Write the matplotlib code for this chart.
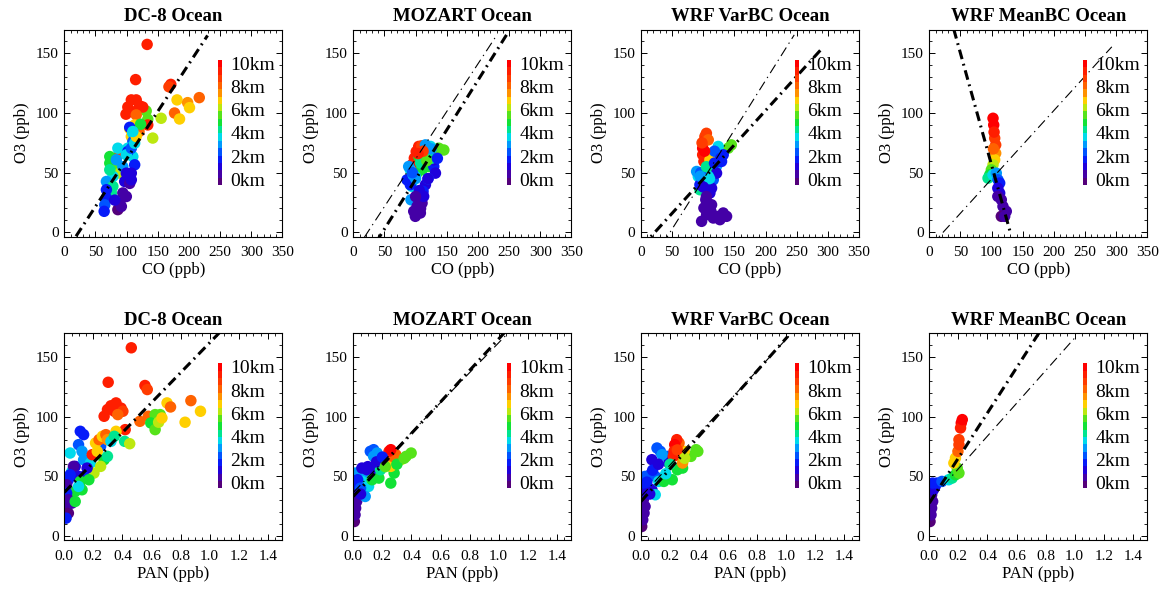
import numpy as np
import matplotlib
matplotlib.use('Agg')
import matplotlib.pyplot as plt
from matplotlib.colors import LinearSegmentedColormap, Normalize
from matplotlib.ticker import MultipleLocator

plt.rcParams['font.family'] = ['Liberation Serif', 'DejaVu Serif']

titles = ['DC-8 Ocean', 'MOZART Ocean', 'WRF VarBC Ocean', 'WRF MeanBC Ocean']

# ---------------- top row: O3 vs CO ----------------
dc8_co = [133, 114.5, 171, 168, 181, 216.7, 198, 201, 177, 185, 155.5, 142, 131.5, 134,
          107.6, 115.5, 102, 121, 110, 99, 126, 134, 115.5, 113, 105, 120, 107.6, 122.5,
          105, 110, 110, 102, 89, 86, 73, 73, 110, 113, 102, 86, 89, 78, 67.6, 97, 107.6,
          105, 78, 75.6, 67.6, 67.6, 65, 64, 94, 99.6, 89, 86, 91.6, 81, 83.6, 99.6, 107.6,
          113, 115.5, 110, 94, 99.6, 107.6, 73]
dc8_co_o3 = [157.5, 128, 124, 122, 111, 112.9, 108.7, 104.5, 100, 95, 95.6, 79, 101.7, 94.8,
             111, 111, 105, 106, 101, 99, 105, 90, 98.4, 90, 87, 84.4, 80.3, 90.6,
             88, 83, 76, 70.5, 66, 70.5, 63.5, 58, 63.5, 56.6, 67.7, 53.8, 49.6, 46.8, 42.6, 42.6, 49.6,
             41, 38.5, 33, 35.7, 28.7, 23, 17.6, 33, 30, 24.5, 19, 21.7, 27, 60.8, 65, 70.5,
             74.7, 80.3, 84.5, 55, 49.6, 44, 52.4]
dc8_co_alt = [9.6, 9.5, 9.2, 8.6, 7.0, 7.8, 7.3, 7.0, 7.8, 6.8, 6.3, 6.2, 5.5, 5.3,
              9.5, 9.6, 9.4, 9.5, 9.3, 9.4, 9.2, 9.3, 8.3, 6.8, 6.9, 7.8, 6.7, 5.0,
              1.5, 3.5, 2.3, 3.8, 9.0, 3.6, 5.0, 5.0, 3.6, 1.5, 2.0, 5.5, 6.2, 3.8, 2.8, 1.2, 0.8,
              0.4, 4.0, 4.5, 1.8, 1.5, 2.5, 2.0, 0.3, 0.3, 0.2, 0.1, 0.4, 1.2, 3.3, 3.5, 2.6,
              3.5, 6.5, 3.8, 2.8, 1.0, 1.3, 4.0]

moz_co = [94, 98, 101, 105, 110, 118.5, 122.8, 115.8, 113, 145.4, 137.3, 129, 105, 110.4,
          102, 121, 91.5, 99.6, 94, 92.6, 123.9, 115.8, 88.9, 129.2, 131.9, 115.8, 112,
          86.2, 91.5, 129, 105, 102.3, 99.6, 107.7, 110.4, 97, 113, 120, 125, 96,
          100, 95, 108, 118, 125, 112, 104, 135, 120, 106, 100, 108]
moz_co_o3 = [56.6, 62.2, 67.7, 72, 72.5, 69, 65, 63.6, 58, 69, 70.5, 67.7, 63.6, 52.4,
             49.6, 55.2, 52.4, 46.8, 38.5, 27.3, 72, 73.3, 55.2, 55.2, 49.6, 39.9, 34.3,
             44, 39.9, 60.8, 27.3, 21.7, 13.4, 16.2, 24.5, 17.6, 30.1, 45, 62, 48,
             45, 50, 58, 60, 70, 68, 66, 62, 45, 35, 30, 20]
moz_co_alt = [9.8, 9.6, 9.4, 9.2, 9.0, 8.2, 7.8, 7.0, 6.8, 5.3, 5.5, 5.8, 5.0, 5.2,
              4.6, 5.0, 3.8, 3.6, 3.5, 3.2, 3.5, 2.8, 2.7, 1.5, 1.3, 1.4, 1.5,
              1.8, 1.6, 1.0, 0.6, 0.4, 0.2, 0.2, 0.4, 0.3, 0.8, 2.4, 4.2, 3.0,
              3.0, 2.5, 4.5, 5.5, 3.0, 8.5, 9.5, 1.8, 1.2, 1.0, 0.5, 0.3]

var_co = [102.6, 101, 99, 99, 101, 105, 108, 113, 110.6, 116, 145, 140, 105.3, 100, 113,
          124, 92, 94.6, 121, 89.3, 116, 132, 129.3, 121.3, 113.3, 94.6, 110.6, 104, 101,
          105.3, 97.3, 116, 126.7, 137.4, 132, 121.3, 113.3, 108, 96, 118,
          95, 105, 118, 128, 110, 100, 105, 112, 102, 98]
var_co_o3 = [80.3, 76, 70.5, 65, 59.4, 83, 77.5, 66.3, 60.8, 63.6, 73.3, 70.5, 49.6, 42.7, 52.4,
             72, 46.8, 35.7, 55.2, 51, 44, 65, 59.4, 49.6, 37, 39.9, 32.9, 27.3, 20.4,
             14.8, 9.2, 12, 10.6, 13.4, 16.2, 13.4, 23.1, 47, 50, 68,
             47, 55, 58, 62, 45, 38, 30, 18, 68, 75]
var_co_alt = [9.0, 9.5, 9.7, 9.6, 9.3, 8.5, 8.2, 6.8, 7.0, 6.5, 5.5, 5.3, 5.0, 4.8, 5.2,
              3.7, 3.8, 4.0, 2.8, 2.7, 2.5, 1.5, 1.6, 1.3, 1.0, 1.8, 0.8, 0.6, 0.5,
              0.3, 0.2, 0.2, 0.2, 0.2, 0.3, 0.25, 0.5, 3.4, 2.2, 2.6,
              3.0, 4.5, 2.0, 1.5, 3.5, 1.2, 0.7, 0.3, 9.8, 9.0]

mean_co = [102.3, 103.4, 105, 106.6, 106.6, 105, 102.3, 99.6, 97, 94.3, 102.3, 107.6,
           110.3, 113, 110, 113, 115.6, 118.3, 123.6, 115.6, 121, 110, 104, 103]
mean_co_o3 = [95.6, 90, 78.9, 73.3, 66.3, 60.8, 56.6, 52.4, 48.2, 45.4, 48.2, 49.6,
              44, 41.3, 37, 32.9, 27.3, 21.7, 17.6, 13.4, 13.4, 30.1, 84, 70]
mean_co_alt = [10.0, 9.7, 9.0, 8.4, 7.5, 6.8, 6.2, 5.5, 5.0, 4.3, 3.6, 3.2,
               2.6, 1.8, 1.3, 1.0, 0.7, 0.5, 0.3, 0.1, 0.2, 0.6, 9.3, 8.0]

# ---------------- bottom row: O3 vs PAN ----------------
dc8_pan = [0.461, 0.302, 0.555, 0.571, 0.274, 0.321, 0.356, 0.391, 0.344, 0.297, 0.403, 0.368,
           0.419, 0.52, 0.578, 0.625, 0.66, 0.595, 0.625, 0.649, 0.672, 0.707, 0.731, 0.871,
           0.937, 0.831, 0.11, 0.133, 0.098, 0.122, 0.04, 0.052, 0.075, 0.133, 0.18, 0.25,
           0.215, 0.239, 0.262, 0.286, 0.297, 0.192, 0.227, 0.321, 0.356, 0.344, 0.415, 0.45,
           0.274, 0.297, 0.25, 0.204, 0.157, 0.133, 0.098, 0.063, 0.169, 0.11, 0.122, 0.075,
           0.098, 0.028, 0.04, 0.016, 0.016, 0.028, 0.016, 0.028, 0.012, 0.052, 0.075]
dc8_pan_o3 = [157.6, 128.7, 126, 122.6, 100.2, 109, 111.4, 107, 104.4, 105.8, 104.4, 101.6,
              89, 96, 100.2, 101.6, 101.6, 94.6, 89, 95.2, 98.8, 111.4, 108, 113.3,
              104.4, 95.2, 87.6, 84.8, 76.4, 70.8, 69.4, 54, 58.2, 63.8, 61, 75,
              77.8, 80.6, 83.4, 84.8, 80.6, 68, 70.8, 79.2, 87.6, 83.4, 79.2, 77.2,
              63.8, 66.6, 58.2, 52.6, 56.8, 49.8, 49.8, 58.2, 47, 45.6, 38.6, 37.2,
              41.4, 47, 51.2, 42.8, 35.8, 30.2, 24.6, 19, 14.8, 27.4, 28.8]
dc8_pan_alt = [9.6, 9.3, 9.2, 8.6, 9.5, 9.5, 9.4, 9.3, 9.4, 9.5, 9.0, 8.2,
               9.3, 8.0, 7.8, 5.5, 5.3, 5.0, 5.8, 6.2, 6.5, 6.8, 7.8, 7.8,
               6.8, 6.5, 1.8, 2.0, 2.5, 2.7, 3.5, 3.6, 1.0, 3.0, 3.5, 2.6,
               6.8, 7.8, 6.7, 8.0, 7.2, 9.2, 6.8, 3.8, 6.5, 4.5, 4.3, 6.4,
               5.0, 4.2, 6.0, 6.3, 1.3, 1.5, 0.8, 0.5, 5.0, 4.8, 5.2, 5.0,
               3.8, 1.8, 2.0, 0.5, 1.5, 0.3, 0.2, 0.1, 1.5, 0.4, 4.8]

moz_pan = [0.007, 0.012, 0.016, 0.023, 0.014, 0.012, 0.007, 0.023, 0.012, 0.047, 0.082, 0.059,
           0.105, 0.082, 0.059, 0.094, 0.14, 0.187, 0.222, 0.117, 0.14, 0.164, 0.14,
           0.129, 0.176, 0.258, 0.281, 0.363, 0.398, 0.328, 0.281, 0.258, 0.27, 0.293,
           0.246, 0.258, 0.187,
           0.03, 0.05, 0.1, 0.16, 0.2, 0.22, 0.3, 0.35, 0.05]
moz_pan_o3 = [12, 17.6, 23.2, 28.8, 33, 38.6, 44.2, 49.8, 52.6, 54, 52.6, 45.6,
              41.4, 33, 56.8, 55.4, 55.4, 61, 63.8, 70.8, 72.2, 69.4, 66.6,
              47, 48.4, 44.2, 52.6, 66.6, 69.4, 63.8, 62.4, 58.2, 66.6, 68,
              70.8, 72.2, 55.4,
              47, 40, 58, 62, 66, 58, 60, 65, 35]
moz_pan_alt = [0.1, 0.2, 0.3, 0.5, 0.7, 1.2, 1.5, 2.3, 2.7, 3.0, 2.8, 3.5,
               3.7, 3.0, 1.0, 0.9, 1.0, 1.2, 1.3, 2.5, 2.6, 3.2, 2.7,
               4.8, 5.2, 5.0, 5.2, 5.3, 5.5, 6.0, 6.5, 6.8, 8.0, 8.2,
               9.5, 9.8, 4.0,
               1.8, 2.6, 1.1, 1.0, 2.0, 5.5, 4.8, 5.8, 0.9]

var_pan = [0.005, 0.012, 0.021, 0.028, 0.016, 0.035, 0.052, 0.075, 0.016, 0.063, 0.028, 0.098,
           0.133, 0.11, 0.18, 0.075, 0.169, 0.192, 0.145, 0.122, 0.098, 0.157, 0.215, 0.25,
           0.286, 0.344, 0.391, 0.379, 0.274, 0.297, 0.239, 0.262, 0.286, 0.246, 0.232,
           0.227, 0.222,
           0.04, 0.08, 0.12, 0.2, 0.25, 0.3, 0.06, 0.17]
var_pan_o3 = [7.8, 13.4, 19, 24.6, 30.2, 35.8, 40, 38.6, 44.2, 51.2, 49.8, 49.8,
              70.8, 73.6, 66.6, 63.8, 49.8, 61, 68, 45.6, 34.4, 45.6, 47, 55.4,
              56.8, 66.6, 70.8, 72.2, 66.6, 70.8, 75, 77.8, 61, 80.6, 76.4,
              70.8, 66.6,
              45, 55, 60, 60, 72, 65, 35, 52]
var_pan_alt = [0.1, 0.2, 0.3, 0.4, 0.6, 0.8, 1.0, 1.2, 1.5, 1.8, 2.3, 2.6,
               2.5, 2.4, 2.6, 1.0, 1.1, 1.3, 3.2, 3.6, 3.4, 4.8, 5.1, 5.0,
               5.2, 5.3, 5.5, 5.6, 6.5, 6.8, 8.0, 8.2, 7.5, 9.5, 9.7,
               9.4, 9.2,
               1.6, 2.0, 1.2, 4.5, 9.0, 6.0, 0.9, 3.5]

mean_pan = [0.005, 0.012, 0.016, 0.023, 0.016, 0.028, 0.04, 0.023, 0.052, 0.087, 0.133, 0.157,
            0.18, 0.204, 0.192, 0.169, 0.18, 0.197, 0.204, 0.204, 0.22, 0.215, 0.227]
mean_pan_o3 = [12, 17.6, 23.2, 28.8, 34.4, 38.6, 41.4, 44.2, 44.2, 45.6, 47, 48.4,
               51.2, 52.6, 56.8, 61, 65.2, 70.8, 76.4, 80.6, 94.6, 90.4, 97.4]
mean_pan_alt = [0.1, 0.2, 0.3, 0.5, 0.7, 1.0, 1.3, 1.6, 1.8, 2.5, 3.5, 4.2,
                5.0, 5.3, 5.6, 6.5, 7.0, 7.8, 8.4, 9.0, 9.7, 9.5, 10.0]

# regression lines O3 = a + b*x, drawn between x0 and x1
co_fit_a = [-18.3, -38.7, -12.7, 243.9]
co_fit_b = [0.797, 0.83, 0.574, -1.876]
co_fit_x0 = [0, 0, 0, 30]
co_fit_x1 = [230, 246, 293, 131]
pan_fit_a = [36.4, 33.0, 28.8, 27.4]
pan_fit_b = [125.4, 132.0, 137.0, 189.0]
pan_fit_x0 = [0, 0, 0, 0]
pan_fit_x1 = [1.07, 1.04, 1.01, 0.76]

top_x = [dc8_co, moz_co, var_co, mean_co]
top_y = [dc8_co_o3, moz_co_o3, var_co_o3, mean_co_o3]
top_c = [dc8_co_alt, moz_co_alt, var_co_alt, mean_co_alt]
bot_x = [dc8_pan, moz_pan, var_pan, mean_pan]
bot_y = [dc8_pan_o3, moz_pan_o3, var_pan_o3, mean_pan_o3]
bot_c = [dc8_pan_alt, moz_pan_alt, var_pan_alt, mean_pan_alt]

cbar_ticks = [0, 2, 4, 6, 8, 10]
cbar_labels = ['0km', '2km', '4km', '6km', '8km', '10km']

# IDL-like rainbow
cmap = LinearSegmentedColormap.from_list('idl_rainbow', [
    (0.00, (0.33, 0.0, 0.48)),
    (0.08, (0.25, 0.0, 0.70)),
    (0.15, (0.05, 0.0, 0.95)),
    (0.22, (0.0, 0.2, 1.0)),
    (0.30, (0.0, 0.55, 1.0)),
    (0.37, (0.0, 0.85, 0.95)),
    (0.44, (0.0, 0.9, 0.55)),
    (0.52, (0.1, 0.88, 0.1)),
    (0.60, (0.55, 0.9, 0.1)),
    (0.66, (1.0, 0.92, 0.0)),
    (0.74, (1.0, 0.6, 0.0)),
    (0.84, (1.0, 0.3, 0.0)),
    (1.00, (1.0, 0.0, 0.0))], N=17)
norm = Normalize(vmin=-0.5, vmax=10.3)

fig = plt.figure(figsize=(11.62, 5.98), dpi=100)
W, H = 1162.0, 598.0
lefts = [64.3, 353.3, 641.0, 929.3]
tops = [29.5, 333.0]
bw, bh = 218.0, 207.0


def style(ax):
    ax.tick_params(which='both', direction='in', top=True, right=True, labelsize=11)
    ax.tick_params(which='major', length=4.5, width=0.7)
    ax.tick_params(which='minor', length=2.3, width=0.6)
    ax.tick_params(axis='x', pad=7)
    ax.tick_params(axis='y', pad=4)
    for s in ax.spines.values():
        s.set_linewidth(0.8)


def add_cbar(ax, sc):
    cax = ax.inset_axes([0.705, 0.249, 0.019, 0.604])
    cb = fig.colorbar(sc, cax=cax)
    cb.outline.set_visible(False)
    cb.set_ticks(cbar_ticks)
    cb.set_ticklabels(cbar_labels)
    cb.ax.tick_params(length=0, labelsize=14, pad=6)


for row in range(2):
    for i in range(4):
        ax = fig.add_axes([lefts[i] / W, 1 - (tops[row] + bh) / H, bw / W, bh / H])
        if row == 0:
            xs, ys, cs = top_x[i], top_y[i], top_c[i]
            fa, fb, f0, f1 = co_fit_a, co_fit_b, co_fit_x0, co_fit_x1
            ax.set_xlim(0, 350)
            ax.xaxis.set_major_locator(MultipleLocator(50))
            ax.xaxis.set_minor_locator(MultipleLocator(10))
            ax.set_xlabel('CO (ppb)', fontsize=12, labelpad=2)
        else:
            xs, ys, cs = bot_x[i], bot_y[i], bot_c[i]
            fa, fb, f0, f1 = pan_fit_a, pan_fit_b, pan_fit_x0, pan_fit_x1
            ax.set_xlim(0, 1.5)
            ax.xaxis.set_major_locator(MultipleLocator(0.2))
            ax.xaxis.set_minor_locator(MultipleLocator(0.05))
            ax.set_xticks(np.arange(0, 1.41, 0.2))
            ax.set_xticklabels(['%.1f' % v for v in np.arange(0, 1.41, 0.2)])
            ax.set_xlabel('PAN (ppb)', fontsize=12, labelpad=2)
        ax.set_ylim(-3.5, 170)
        ax.yaxis.set_major_locator(MultipleLocator(50))
        ax.yaxis.set_minor_locator(MultipleLocator(10))
        ax.set_ylabel('O3 (ppb)', fontsize=12, labelpad=4)
        ax.set_title(titles[i], fontsize=13.5, fontweight='bold', pad=6)

        sc = ax.scatter(xs, ys, c=cs, cmap=cmap, norm=norm, s=68, linewidths=0, zorder=2)

        # previous panel's fit as thin line
        if i > 0:
            lx = np.array([f0[i - 1], f1[i - 1]])
            ax.plot(lx, fa[i - 1] + fb[i - 1] * lx, color='k', lw=0.8,
                    linestyle=(0, (9, 4, 1.2, 4)), zorder=3)
        lx = np.array([f0[i], f1[i]])
        ax.plot(lx, fa[i] + fb[i] * lx, color='k', lw=2.2,
                linestyle=(0, (3.2, 1.6, 0.6, 1.6)), zorder=4)

        style(ax)
        add_cbar(ax, sc)

fig.savefig('out.png', dpi=100)
